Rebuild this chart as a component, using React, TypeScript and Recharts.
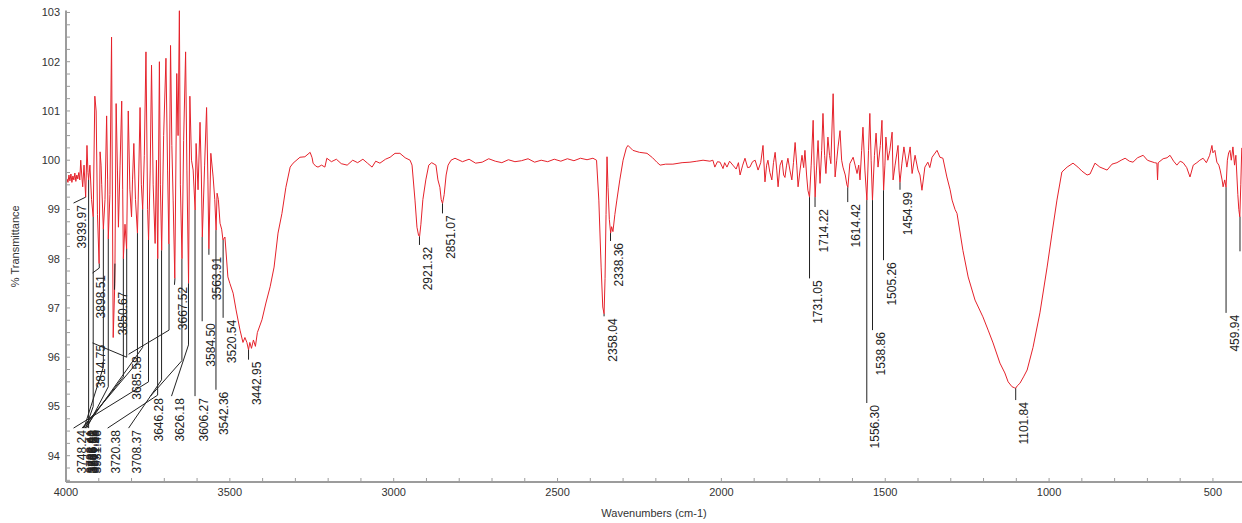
import React from "react";
import {
  ComposedChart,
  Line,
  XAxis,
  YAxis,
  ReferenceLine,
  ReferenceDot,
} from "recharts";

// [wavenumber (cm-1), % transmittance]
const spectrum: [number, number][] = [
  [4000, 99.5], [3997, 99.62], [3994, 99.55], [3991, 99.7], [3988, 99.58], [3985, 99.72],
  [3982, 99.55], [3979, 99.68], [3976, 99.6], [3973, 99.74], [3970, 99.57], [3967, 99.7],
  [3964, 99.62], [3961, 99.75], [3958, 99.6],
  [3955, 100.0], [3952, 99.7], [3949, 99.46], [3945, 99.9], [3940, 99.25], [3936, 100.3],
  [3933, 99.75], [3931, 99.6], [3927, 99.9], [3922, 99.2], [3917, 98.85], [3912, 101.3],
  [3908, 101.0], [3904, 98.9], [3899, 97.9], [3896, 100.17], [3893, 99.9], [3891, 99.5],
  [3886, 98.6], [3881, 99.2], [3876, 100.9], [3873, 99.6], [3871, 98.4], [3866, 99.3],
  [3861, 102.5], [3856, 96.4], [3851, 97.5], [3847, 101.15], [3843, 99.8], [3840, 98.64],
  [3835, 99.9], [3830, 101.2], [3827, 99.4], [3825, 98.0], [3820, 98.7], [3815, 98.2],
  [3810, 101.0], [3805, 99.4], [3800, 98.85], [3797, 99.6], [3793, 100.34], [3788, 99.2],
  [3782, 98.52], [3778, 99.7], [3774, 101.07], [3770, 99.5], [3766, 99.0], [3761, 100.1],
  [3756, 102.2], [3751, 99.0], [3748, 98.38], [3743, 99.8], [3739, 101.93], [3734, 99.5],
  [3728, 98.31], [3724, 100.0], [3720, 98.0], [3715, 102.0], [3712, 99.5], [3708, 98.17],
  [3702, 100.5], [3695, 102.07], [3690, 99.8], [3686, 98.3], [3681, 102.33], [3677, 100.3],
  [3673, 99.19], [3668, 97.6], [3662, 101.76], [3658, 100.5], [3654, 103.04], [3651, 99.5],
  [3646, 98.0], [3641, 100.4], [3635, 102.2], [3631, 99.8], [3626, 97.5], [3622, 101.3],
  [3617, 100.0], [3612, 99.8], [3606, 98.99], [3603, 100.34], [3597, 99.4], [3591, 100.77],
  [3587, 99.7], [3584, 98.44], [3577, 99.9], [3571, 101.07], [3567, 99.6], [3564, 98.2],
  [3558, 100.14], [3551, 99.66], [3546, 99.2], [3542, 98.58], [3539, 99.33], [3535, 99.2],
  [3530, 98.72], [3525, 98.6], [3521, 98.38], [3515, 98.44],
  [3506, 97.63], [3500, 97.5], [3490, 97.3], [3481, 96.96], [3469, 96.55], [3460, 96.3],
  [3454, 96.4], [3448, 96.3], [3443, 96.15], [3439, 96.3], [3434, 96.18], [3428, 96.35],
  [3422, 96.22], [3416, 96.5], [3402, 96.76], [3390, 97.1], [3377, 97.43], [3365, 97.83],
  [3353, 98.52], [3341, 98.92], [3329, 99.45], [3316, 99.86], [3307, 99.94], [3286, 100.06],
  [3271, 100.07], [3255, 100.16], [3249, 100.05], [3246, 99.94], [3238, 99.88], [3231, 99.86],
  [3220, 99.9], [3210, 99.86], [3204, 100.04], [3190, 99.97], [3175, 100.02], [3160, 99.93],
  [3142, 99.9], [3125, 100.0], [3110, 99.95], [3094, 100.02], [3080, 99.94], [3066, 99.86],
  [3055, 99.98], [3042, 99.94], [3025, 100.02], [3011, 100.06], [2996, 100.14], [2981, 100.14],
  [2965, 100.05], [2950, 100.0], [2944, 99.9], [2935, 99.19], [2929, 98.64], [2924, 98.47],
  [2921, 98.45], [2917, 98.7], [2911, 99.2], [2902, 99.6], [2893, 99.9], [2884, 99.95],
  [2871, 99.9], [2865, 99.6], [2859, 99.45], [2855, 99.2], [2851, 99.12], [2846, 99.3],
  [2840, 99.7], [2834, 99.9], [2825, 100.0], [2813, 100.04],
  [2790, 99.97], [2770, 100.02], [2750, 99.94], [2730, 99.96], [2710, 100.03], [2690, 99.98],
  [2670, 99.95], [2650, 100.01], [2630, 99.97], [2610, 99.99], [2590, 100.03], [2570, 99.96],
  [2550, 100.0], [2530, 99.97], [2510, 100.02], [2490, 99.98], [2470, 100.03], [2450, 99.99],
  [2430, 100.04], [2410, 100.01], [2392, 100.04],
  [2381, 100.0], [2374, 99.19], [2367, 97.83], [2362, 97.02], [2358, 96.88], [2355, 97.6],
  [2352, 98.9], [2349, 100.07], [2346, 99.45], [2342, 98.8], [2338, 98.52], [2335, 98.65],
  [2331, 98.55], [2325, 98.9], [2319, 99.19], [2310, 99.6], [2300, 100.0], [2290, 100.25],
  [2285, 100.3], [2270, 100.2], [2250, 100.16], [2227, 100.14], [2210, 100.05], [2197, 99.96],
  [2187, 99.9], [2170, 99.92], [2148, 99.92], [2120, 99.95], [2096, 99.96], [2075, 99.98],
  [2056, 100.0], [2035, 99.98], [2026, 100.0],
  [2020, 99.86], [2012, 99.97], [2004, 99.96], [1995, 99.83], [1990, 99.95], [1983, 99.86],
  [1975, 99.98], [1965, 99.9], [1955, 99.82], [1948, 99.95], [1943, 99.7], [1935, 99.9],
  [1928, 100.04], [1920, 99.85], [1913, 99.86], [1905, 99.97], [1897, 100.0], [1888, 99.8],
  [1880, 99.95], [1873, 100.3], [1867, 99.56], [1862, 99.9], [1858, 100.0], [1852, 99.75],
  [1846, 99.6], [1841, 99.95], [1836, 100.16], [1831, 99.8], [1827, 99.46], [1821, 99.9],
  [1815, 100.0], [1810, 99.7], [1806, 99.65], [1801, 99.9], [1797, 100.04], [1791, 99.8],
  [1785, 99.6], [1780, 99.95], [1775, 100.36], [1770, 99.9], [1766, 99.46], [1760, 99.8],
  [1754, 100.1], [1749, 99.85], [1745, 100.2], [1740, 99.7], [1736, 99.39], [1731, 99.25],
  [1726, 99.9], [1720, 100.81], [1717, 99.9], [1714, 99.25], [1710, 99.8], [1705, 100.4],
  [1699, 99.53], [1694, 100.2], [1690, 100.95], [1685, 100.1], [1681, 99.73], [1675, 100.47],
  [1670, 100.1], [1666, 99.93], [1659, 101.35], [1653, 99.66], [1648, 100.0], [1644, 100.27],
  [1638, 100.6], [1633, 100.0], [1629, 99.86], [1622, 99.7], [1617, 99.5], [1614, 99.45],
  [1608, 99.93], [1598, 100.06], [1592, 99.9], [1586, 99.73], [1581, 99.9], [1577, 99.6],
  [1572, 100.2], [1568, 100.67], [1562, 99.8], [1556, 99.19], [1551, 100.2], [1547, 100.95],
  [1543, 100.0], [1539, 99.19], [1533, 100.1], [1528, 100.55], [1522, 99.86], [1515, 100.3],
  [1510, 100.81], [1505, 99.39], [1501, 99.9], [1498, 100.47], [1492, 100.0], [1486, 100.2],
  [1479, 100.57], [1476, 99.6], [1470, 99.9], [1461, 100.3], [1458, 99.8], [1455, 99.55],
  [1449, 99.94], [1443, 100.27], [1434, 99.86], [1424, 100.27], [1418, 99.73], [1409, 100.1],
  [1400, 99.8], [1394, 99.7], [1388, 99.39], [1379, 99.86], [1370, 99.96], [1364, 99.85],
  [1357, 100.06], [1342, 100.2], [1333, 100.06], [1324, 100.04], [1312, 99.66], [1302, 99.4],
  [1296, 99.19], [1287, 99.0], [1281, 98.92],
  [1263, 98.17], [1247, 97.63], [1226, 97.16], [1202, 96.82], [1186, 96.55], [1171, 96.29],
  [1150, 95.88], [1135, 95.68], [1125, 95.5], [1113, 95.4], [1106, 95.38], [1102, 95.37],
  [1097, 95.42], [1089, 95.47], [1078, 95.6], [1067, 95.74], [1049, 96.2], [1028, 96.9],
  [1006, 97.83], [991, 98.52], [976, 99.19], [961, 99.76], [945, 99.86], [927, 99.94],
  [912, 99.86], [900, 99.78], [884, 99.7], [875, 99.72], [860, 99.94], [845, 99.86],
  [823, 99.8], [808, 99.92], [793, 99.95], [780, 100.0], [768, 100.04], [755, 99.98],
  [744, 99.96], [730, 100.05], [713, 100.1], [700, 100.0], [692, 99.98], [678, 99.95],
  [671, 99.94], [669, 99.6], [667, 99.95], [652, 100.03], [640, 100.05], [631, 100.1],
  [620, 99.98], [610, 99.9], [600, 99.98], [591, 99.95], [580, 99.85], [570, 99.66],
  [560, 99.9], [549, 99.95], [540, 100.0], [530, 100.04], [520, 99.95], [510, 100.1],
  [503, 100.3], [500, 100.15], [494, 100.2], [488, 99.96], [482, 99.9], [478, 99.8],
  [472, 99.6], [469, 99.46], [464, 99.6], [460, 99.45], [456, 100.0], [452, 100.15],
  [448, 100.2], [444, 100.0], [439, 100.27], [434, 99.9], [430, 100.1], [427, 99.7],
  [424, 99.3], [421, 99.0], [418, 98.85], [415, 99.5], [412, 100.25],
];

// peak annotations: leader starts at (wn, t), optional bend at (wn, by), ends at (ex, ey)
type Peak = { text: string; wn: number; t: number; by?: number; ex: number; ey: number; hidden?: boolean };

const peaks: Peak[] = [
  { text: "3939.97", wn: 3939.97, t: 99.25, ex: 3977, ey: 99.13 },
  { text: "3898.51", wn: 3898.51, t: 97.9, by: 97.81, ex: 3919, ey: 97.71 },
  { text: "3850.67", wn: 3850.67, t: 97.9, ex: 3852, ey: 97.37 },
  { text: "3814.75", wn: 3814.75, t: 98.2, by: 96.0, ex: 3919, ey: 96.29 },
  { text: "3931.46", wn: 3931, t: 99.6, ex: 3931, ey: 94.56 },
  { text: "3917.66", wn: 3917, t: 98.85, by: 95.0, ex: 3940, ey: 94.56 },
  { text: "3886.12", wn: 3886, t: 98.6, by: 95.8, ex: 3945, ey: 94.56 },
  { text: "3871.35", wn: 3871, t: 98.4, by: 95.4, ex: 3937, ey: 94.56 },
  { text: "3825.90", wn: 3825, t: 98.0, by: 95.6, ex: 3948, ey: 94.56 },
  { text: "3782.41", wn: 3782, t: 98.52, by: 95.9, ex: 3951, ey: 94.56 },
  { text: "3766.83", wn: 3766, t: 99.0, by: 96.2, ex: 3942, ey: 94.56 },
  { text: "3748.24", wn: 3748.24, t: 98.38, by: 95.5, ex: 3977, ey: 94.56 },
  { text: "3720.38", wn: 3720.38, t: 98.0, by: 95.23, ex: 3873, ey: 94.56 },
  { text: "3708.37", wn: 3708.37, t: 98.17, by: 95.54, ex: 3809, ey: 94.56 },
  { text: "3685.58", wn: 3685.58, t: 98.3, by: 96.55, ex: 3809, ey: 96.06 },
  { text: "3667.52", wn: 3667.52, t: 97.6, ex: 3669, ey: 97.47 },
  { text: "3646.28", wn: 3646.28, t: 98.0, by: 95.93, ex: 3742, ey: 95.21 },
  { text: "3626.18", wn: 3626.18, t: 97.5, by: 96.25, ex: 3678, ey: 95.21 },
  { text: "3606.27", wn: 3606.27, t: 98.99, ex: 3606.27, ey: 95.21 },
  { text: "3584.50", wn: 3584.5, t: 98.44, ex: 3584.5, ey: 96.73 },
  { text: "3563.91", wn: 3563.91, t: 98.2, ex: 3563.91, ey: 98.08 },
  { text: "3542.36", wn: 3542.36, t: 98.58, ex: 3542.36, ey: 95.34 },
  { text: "3520.54", wn: 3520.54, t: 98.38, ex: 3520.54, ey: 96.8 },
  { text: "3442.95", wn: 3442.95, t: 96.15, ex: 3442.95, ey: 95.95 },
  { text: "2921.32", wn: 2921.32, t: 98.45, ex: 2921.32, ey: 98.28 },
  { text: "2851.07", wn: 2851.07, t: 99.12, ex: 2851.07, ey: 98.92 },
  { text: "2358.04", wn: 2358.04, t: 96.88, ex: 2358.04, ey: 96.83 },
  { text: "2338.36", wn: 2338.36, t: 98.52, ex: 2338.36, ey: 98.36 },
  { text: "1731.05", wn: 1731.05, t: 99.25, ex: 1731.05, ey: 97.6 },
  { text: "1714.22", wn: 1714.22, t: 99.25, ex: 1714.22, ey: 99.05 },
  { text: "1614.42", wn: 1614.42, t: 99.45, ex: 1614.42, ey: 99.15 },
  { text: "1556.30", wn: 1556.3, t: 99.19, ex: 1556.3, ey: 95.07 },
  { text: "1538.86", wn: 1538.86, t: 99.19, ex: 1538.86, ey: 96.55 },
  { text: "1505.26", wn: 1505.26, t: 99.39, ex: 1505.26, ey: 97.97 },
  { text: "1454.99", wn: 1454.99, t: 99.55, ex: 1454.99, ey: 99.4 },
  { text: "1101.84", wn: 1101.84, t: 95.37, ex: 1101.84, ey: 95.13 },
  { text: "459.94", wn: 459.94, t: 99.45, ex: 459.94, ey: 96.9 },
  // label of this one falls past the right edge in the original, only its leader shows
  { text: "417.42", wn: 417.42, t: 98.85, ex: 417.42, ey: 98.15, hidden: true },
];

const xMajorTicks = [4000, 3500, 3000, 2500, 2000, 1500, 1000, 500];
const yMajorTicks = [94, 95, 96, 97, 98, 99, 100, 101, 102, 103];

const xTicks: number[] = [];
for (let v = 500; v <= 4000; v += 100) xTicks.push(v);
const yTicks: number[] = [];
for (let q = 374; q <= 412; q++) yTicks.push(q / 4);

const FONT = "'Liberation Sans', Arial, sans-serif";
const RED = "#e5222b";
const AXIS = "#9c9c9c";

const data = spectrum.map(([wn, t]) => ({ wn, t }));

function XTick({ x, y, payload }: any) {
  const major = xMajorTicks.includes(payload.value);
  return (
    <g>
      <line x1={x} x2={x} y1={y} y2={y - 4} stroke={AXIS} />
      {major && (
        <text x={x} y={y + 14} textAnchor="middle" fontSize={11} fill="#333" fontFamily={FONT}>
          {payload.value}
        </text>
      )}
    </g>
  );
}

function YTick({ x, y, payload }: any) {
  const major = yMajorTicks.includes(payload.value);
  return (
    <g>
      <line x1={x} x2={x + 4} y1={y} y2={y} stroke={AXIS} />
      {major && (
        <text x={x - 6} y={y} dy={4} textAnchor="end" fontSize={11} fill="#333" fontFamily={FONT}>
          {payload.value}
        </text>
      )}
    </g>
  );
}

const peakText = (text: string) => (props: any) => {
  const x = props.cx + 8.5;
  const y = props.cy + 2;
  return (
    <text
      x={x}
      y={y}
      transform={`rotate(-90 ${x} ${y})`}
      textAnchor="end"
      dominantBaseline="central"
      fontSize={12}
      fill="#222"
      fontFamily={FONT}
    >
      {text}
    </text>
  );
};

function leaderSegments(p: Peak) {
  const pts = [{ x: p.wn, y: p.t }];
  if (p.by != null) pts.push({ x: p.wn, y: p.by });
  pts.push({ x: p.ex, y: p.ey });
  return pts.slice(1).map((pt, i) => [pts[i], pt]);
}

export default function App() {
  return (
    <div style={{ position: "absolute", left: 0, top: 0, background: "#fff" }}>
      <ComposedChart
        width={1242}
        height={523}
        data={data}
        margin={{ top: 10.5, right: 0, bottom: 0, left: 0 }}
      >
        <XAxis
          type="number"
          dataKey="wn"
          domain={[411.3, 4000]}
          reversed
          allowDataOverflow
          ticks={xTicks}
          interval={0}
          tick={(p: any) => <XTick {...p} />}
          tickLine={false}
          tickSize={0}
          tickMargin={0}
          axisLine={{ stroke: AXIS, strokeWidth: 2 }}
          height={41}
          label={(p: any) => {
            const vb = p.viewBox;
            return (
              <text
                x={vb.x + vb.width / 2}
                y={vb.y + 31}
                textAnchor="middle"
                dominantBaseline="central"
                fontSize={11}
                fill="#333"
                fontFamily={FONT}
              >
                Wavenumbers (cm-1)
              </text>
            );
          }}
        />
        <YAxis
          type="number"
          domain={[93.466, 103.04]}
          allowDataOverflow
          ticks={yTicks}
          interval={0}
          tick={(p: any) => <YTick {...p} />}
          tickLine={false}
          tickSize={0}
          tickMargin={0}
          axisLine={{ stroke: AXIS, strokeWidth: 2 }}
          width={66}
          label={(p: any) => {
            const vb = p.viewBox;
            const x = 15;
            const y = vb.y + vb.height / 2;
            return (
              <text
                x={x}
                y={y}
                transform={`rotate(-90 ${x} ${y})`}
                textAnchor="middle"
                dominantBaseline="central"
                fontSize={11}
                fill="#333"
                fontFamily={FONT}
              >
                % Transmittance
              </text>
            );
          }}
        />
        <Line
          type="linear"
          dataKey="t"
          stroke={RED}
          strokeWidth={1}
          dot={false}
          isAnimationActive={false}
        />
        {peaks.flatMap((p) =>
          leaderSegments(p).map((seg, i) => (
            <ReferenceLine
              key={`${p.text}-${i}`}
              segment={seg}
              stroke="#222"
              strokeWidth={1}
              ifOverflow="visible"
            />
          ))
        )}
        {peaks
          .filter((p) => !p.hidden)
          .map((p) => (
            <ReferenceDot
              key={`lbl-${p.text}`}
              x={p.ex}
              y={p.ey}
              r={0}
              ifOverflow="visible"
              shape={peakText(p.text)}
            />
          ))}
      </ComposedChart>
    </div>
  );
}
